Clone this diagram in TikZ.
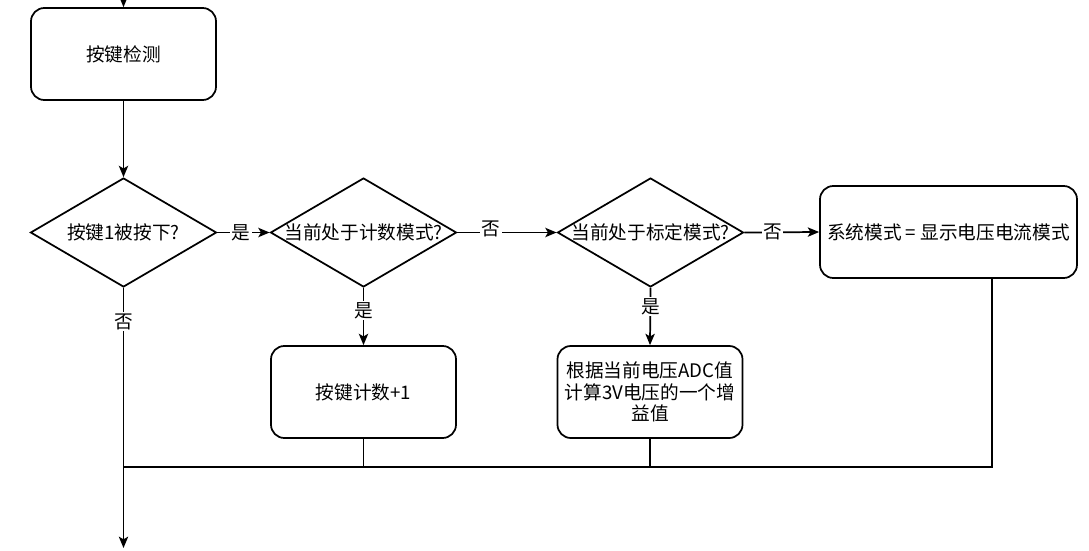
\documentclass[tikz,border=0pt]{standalone}
\usepackage{fontspec}
\setmainfont{Noto Sans CJK SC}
\usetikzlibrary{shapes.geometric,arrows.meta}
\begin{document}
\begin{tikzpicture}[x=0.75pt,y=-0.75pt,
  font=\fontsize{14pt}{17pt}\selectfont,
  line width=1.3pt,
  arr/.style={-{Stealth[length=8.5pt,width=7pt,inset=2pt]}},
  proc/.style={draw, rounded corners=10pt, align=center, minimum width=138.75pt, minimum height=69pt, inner sep=2pt},
  dec/.style={draw, diamond, inner sep=0pt, minimum width=139.5pt, minimum height=81.75pt},
  txt/.style={inner sep=0pt, align=center},
  lbl/.style={fill=white, inner sep=1pt}]
\useasboundingbox (0,0) rectangle (1089,550);

\coordinate (top) at (123.5,0);
\node[proc] (b1) at (123.5,54) {按键检测};
\node[dec] (d1) at (123.5,232.5) {};
\node[txt] (d1t) at (d1.center) {按键1被按下?};
\node[dec] (d2) at (363.5,232.5) {};
\node[txt] (d2t) at (d2.center) {当前处于计数模式?};
\node[dec] (d3) at (650.5,232.5) {};
\node[txt] (d3t) at (d3.center) {当前处于标定模式?};
\node[proc, minimum width=192.75pt] (b4) at (948.5,232) {系统模式 = 显示电压电流模式};
\node[proc] (b2) at (363.5,392) {按键计数+1};
\node[proc, inner sep=1pt] (b3) at (650,392) {根据当前电压ADC值\\[-1pt]计算3V电压的一个增\\[-1pt]益值};

\coordinate (m1) at (123.5,467);
\coordinate (m2) at (363.5,467);
\coordinate (m3) at (650,467);
\coordinate (m4) at (992,467);
\coordinate (b4b) at (992,278);
\coordinate (bot) at (123.5,548);

\draw[arr] (top) -- (b1.north);
\draw[arr] (b1.south) -- (d1.north);
\draw[arr] (d1.east) -- node[lbl, pos=0.45] (l1) {是} (d2.west);
\draw[arr] (d2.east) -- node[lbl, pos=0.34, yshift=3pt] (l2) {否} (d3.west);
\draw[arr] (d3.east) -- node[lbl, pos=0.38] (l3) {否} (b4.west);
\draw[arr] (d2.south) -- node[lbl, pos=0.4] (l4) {是} (b2.north);
\draw[arr] (d3.south) -- node[lbl, pos=0.33] (l5) {是} (b3.north);
\draw[arr] (d1.south) -- node[lbl, pos=0.13] (l6) {否} (bot);
\draw (b2.south) -- (m2);
\draw (b3.south) -- (m3);
\draw (b4b) -- (m4) -- (m1);
\end{tikzpicture}
\end{document}
